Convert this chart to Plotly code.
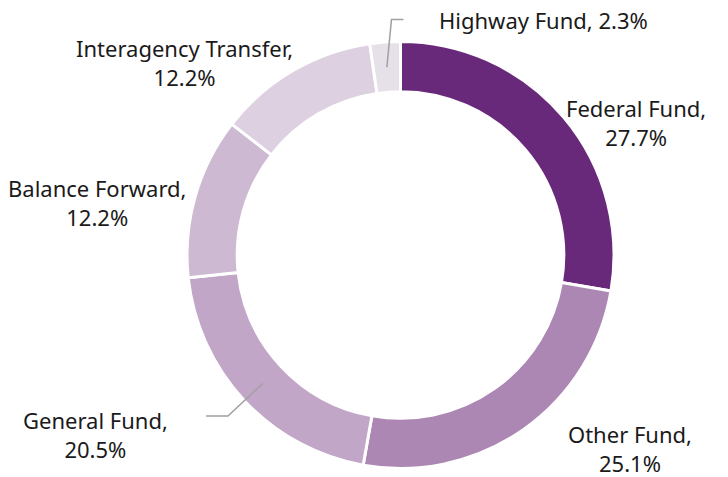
import math
import plotly.graph_objects as go

categories = ["Federal Fund", "Other Fund", "General Fund", "Balance Forward",
              "Interagency Transfer", "Highway Fund"]
values = [27.7, 25.1, 20.5, 12.2, 12.2, 2.3]
colors = ["#69297a", "#ad87b4", "#c2a6c8", "#cdb9d2", "#dcd0e1", "#e6e1e8"]

W, H = 728, 477
cx, cy, R = 400.5, 255.0, 213.5   # pixel geometry of the donut
hole = 0.765

# label placement (pixel centers) and line breaks
label_pos = {
    "Federal Fund": (636, 122, True),
    "Other Fund": (630, 448, True),
    "General Fund": (95, 434, True),
    "Balance Forward": (97, 202, True),
    "Interagency Transfer": (184, 62, True),
    "Highway Fund": (543, 20, False),
}
leader = {"Highway Fund": 1, "General Fund": -1}

fig = go.Figure(go.Pie(
    labels=categories, values=values, sort=False, direction="clockwise",
    rotation=0, hole=hole,
    marker=dict(colors=colors, line=dict(color="white", width=3)),
    textinfo="none", hoverinfo="label+percent", showlegend=False,
    domain=dict(x=[(cx - R) / W, (cx + R) / W],
                y=[(H - cy - R) / H, (H - cy + R) / H]),
))

def px(x, y):
    return x / W, 1 - y / H

annotations = []
shapes = []
total = sum(values)
cum = 0
for cat, v in zip(categories, values):
    mid = (cum + v / 2) / total * 2 * math.pi
    cum += v
    x, y, br = label_pos[cat]
    txt = f"{cat},<br>{v}%" if br else f"{cat}, {v}%"
    ax, ay = px(x, y)
    annotations.append(dict(x=ax, y=ay, xref="paper", yref="paper", text=txt,
                            xanchor="center", yanchor="middle",
                            showarrow=False, align="center",
                            font=dict(family="Noto Sans", size=22, color="#1a1a1a")))
    if cat in leader:
        r0 = R * (1 + hole) / 2
        x0, y0 = cx + r0 * math.sin(mid), cy - r0 * math.cos(mid)
        r1 = 236
        x1, y1 = cx + r1 * math.sin(mid), cy - r1 * math.cos(mid)
        x1 += 8 * leader[cat] if cat == "Highway Fund" else 0
        x2 = x1 + 12 * leader[cat] if cat == "Highway Fund" else x1 - 22
        pts = [px(x0, y0), px(x1, y1), px(x2, y1)]
        path = "M {} {} L {} {} L {} {}".format(*[c for p in pts for c in p])
        shapes.append(dict(type="path", path=path, xref="paper", yref="paper",
                           line=dict(color="#a0a0a0", width=1.5)))

fig.update_layout(width=W, height=H, margin=dict(l=0, r=0, t=0, b=0),
                  paper_bgcolor="white", plot_bgcolor="white",
                  annotations=annotations, shapes=shapes)
fig.write_html("out.html", config={"displayModeBar": False},
               post_script="document.body.style.margin='0';")
